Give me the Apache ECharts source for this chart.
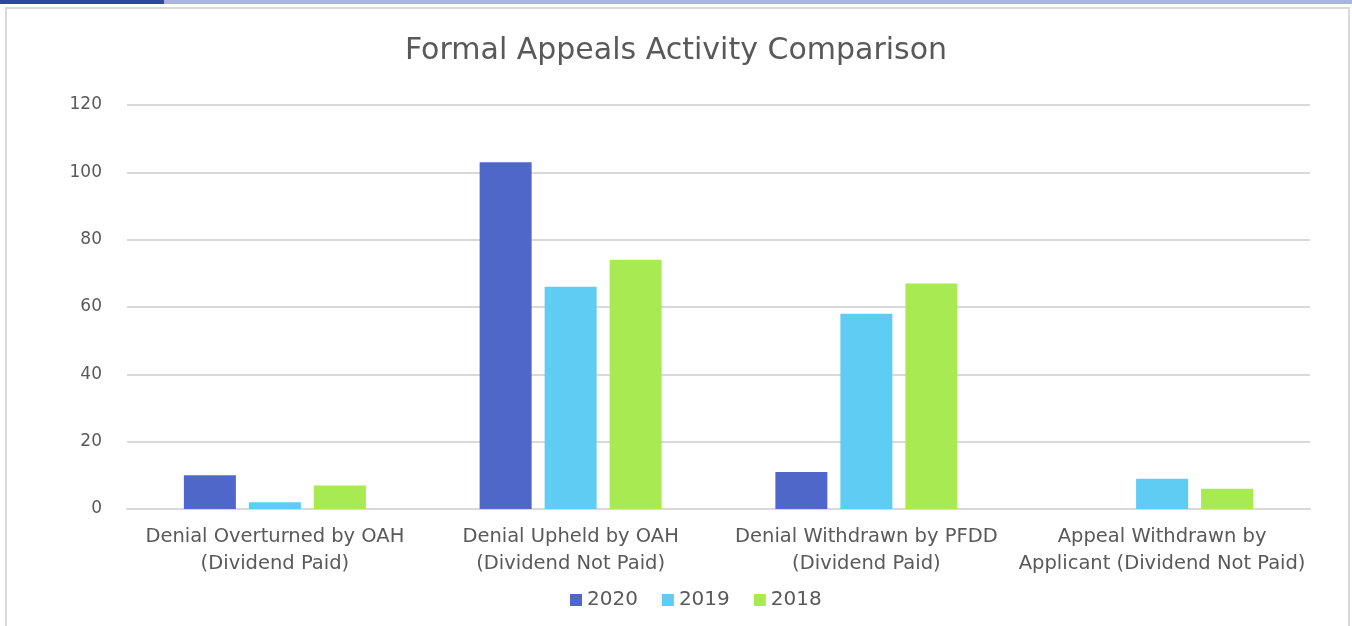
<!DOCTYPE html>
<html>
<head>
<meta charset="utf-8">
<script src="https://cdn.jsdelivr.net/npm/echarts@6/dist/echarts.min.js"></script>
<style>
  html, body { margin: 0; padding: 0; width: 1352px; height: 626px; overflow: hidden; background: #fff; }
  #bar-dark { position: absolute; left: 0; top: 0; width: 164px; height: 4px; background: #2f479c; }
  #bar-light { position: absolute; left: 164px; top: 0; width: 1188px; height: 4px; background: #a7b5e2; }
  #frame { position: absolute; left: 5px; top: 7px; width: 1341px; height: 640px; border: 2px solid #d9d9d9; border-bottom: none; }
  #chart { position: absolute; left: 0; top: 0; width: 1352px; height: 626px; }
</style>
</head>
<body>
<div id="bar-dark"></div>
<div id="bar-light"></div>
<div id="frame"></div>
<div id="chart"></div>
<script>
  const categories = [
    "Denial Overturned by OAH\n(Dividend Paid)",
    "Denial Upheld by OAH\n(Dividend Not Paid)",
    "Denial Withdrawn by PFDD\n(Dividend Paid)",
    "Appeal Withdrawn by\nApplicant (Dividend Not Paid)"
  ];
  const years = ["2020", "2019", "2018"];
  const values2020 = [10, 103, 11, 0];
  const values2019 = [2, 66, 58, 9];
  const values2018 = [7, 74, 67, 6];
  const colors = ["#4e67c8", "#5eccf3", "#a7ea52"];

  const font = "'DejaVu Sans', sans-serif";
  const chart = echarts.init(document.getElementById("chart"));
  chart.setOption({
    animation: false,
    textStyle: { fontFamily: font },
    title: {
      text: "Formal Appeals Activity Comparison",
      left: "center",
      top: 31,
      textStyle: { fontSize: 30, fontWeight: "normal", color: "#595959", fontFamily: font }
    },
    legend: {
      data: years,
      bottom: 11,
      left: 565,
      itemWidth: 12,
      itemHeight: 12,
      itemGap: 24,
      icon: "rect",
      textStyle: { fontSize: 20, color: "#595959", fontFamily: font }
    },
    grid: { left: 127, right: 42, top: 105, bottom: 117 },
    xAxis: {
      type: "category",
      data: categories,
      axisLine: { lineStyle: { color: "#d9d9d9", width: 2 } },
      axisTick: { show: false },
      axisLabel: { fontSize: 19.5, color: "#595959", lineHeight: 27, margin: 14, interval: 0 }
    },
    yAxis: {
      type: "value",
      min: 0,
      max: 120,
      interval: 20,
      axisLine: { show: false },
      axisTick: { show: false },
      splitLine: { lineStyle: { color: "#d9d9d9", width: 2 } },
      axisLabel: { fontSize: 17, color: "#595959", margin: 25 }
    },
    series: [
      { name: years[0], type: "bar", data: values2020, color: colors[0], barWidth: 52, barGap: "25%" },
      { name: years[1], type: "bar", data: values2019, color: colors[1], barWidth: 52, barGap: "25%" },
      { name: years[2], type: "bar", data: values2018, color: colors[2], barWidth: 52, barGap: "25%" }
    ]
  });
</script>
</body>
</html>
